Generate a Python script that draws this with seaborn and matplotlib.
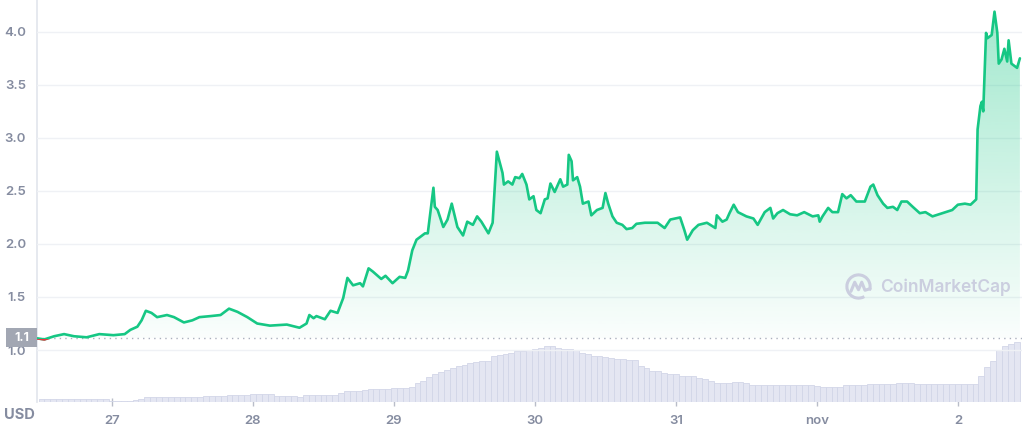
import numpy as np
import pandas as pd
import seaborn as sns
import matplotlib.pyplot as plt
import matplotlib.transforms as mtransforms
from matplotlib.patches import Rectangle, Arc

# Price (USD) against time in days: 27 = Oct 27, 32 = Nov 1, 33 = Nov 2
day = [26.47, 26.52, 26.59, 26.66, 26.73, 26.82, 26.91, 27.01, 27.09, 27.13,
       27.18, 27.21, 27.24, 27.28, 27.32, 27.39, 27.44, 27.51, 27.57, 27.62,
       27.70, 27.77, 27.83, 27.89, 27.96, 28.03, 28.12, 28.24, 28.33, 28.38,
       28.40, 28.43, 28.45, 28.51, 28.55, 28.60, 28.64, 28.67, 28.71, 28.76,
       28.78, 28.82, 28.85, 28.91, 28.94, 28.99, 29.04, 29.08, 29.10, 29.13,
       29.16, 29.19, 29.22, 29.24, 29.28, 29.29, 29.31, 29.35, 29.38, 29.41,
       29.45, 29.49, 29.52, 29.56, 29.59, 29.62, 29.67, 29.70, 29.73, 29.77,
       29.78, 29.81, 29.84, 29.86, 29.89, 29.91, 29.94, 29.96, 29.99, 30.01,
       30.04, 30.07, 30.09, 30.11, 30.14, 30.18, 30.20, 30.23, 30.24, 30.26,
       30.27, 30.30, 30.32, 30.34, 30.38, 30.40, 30.44, 30.48, 30.50, 30.52,
       30.55, 30.58, 30.62, 30.65, 30.69, 30.72, 30.78, 30.87, 30.92, 30.96,
       31.03, 31.06, 31.08, 31.12, 31.16, 31.22, 31.28, 31.29, 31.33, 31.36,
       31.38, 31.41, 31.44, 31.50, 31.55, 31.58, 31.63, 31.67, 31.69, 31.72,
       31.76, 31.81, 31.86, 31.91, 31.97, 32.01, 32.02, 32.04, 32.08, 32.11,
       32.15, 32.18, 32.21, 32.24, 32.28, 32.34, 32.38, 32.40, 32.43, 32.47,
       32.50, 32.54, 32.57, 32.60, 32.64, 32.68, 32.73, 32.77, 32.82, 32.89,
       32.96, 33.00, 33.05, 33.09, 33.13, 33.14, 33.16, 33.17, 33.18, 33.20,
       33.21, 33.24, 33.26, 33.28, 33.29, 33.31, 33.33, 33.35, 33.36, 33.38,
       33.42, 33.44]
price = [1.11, 1.10, 1.13, 1.15, 1.13, 1.12, 1.15, 1.14, 1.15, 1.19,
         1.22, 1.28, 1.37, 1.35, 1.31, 1.33, 1.31, 1.26, 1.28, 1.31,
         1.32, 1.33, 1.39, 1.36, 1.31, 1.25, 1.23, 1.24, 1.21, 1.25,
         1.33, 1.30, 1.32, 1.29, 1.37, 1.35, 1.49, 1.68, 1.61, 1.63,
         1.60, 1.77, 1.74, 1.67, 1.70, 1.63, 1.69, 1.68, 1.75, 1.94,
         2.04, 2.07, 2.10, 2.10, 2.53, 2.35, 2.32, 2.16, 2.23, 2.38,
         2.16, 2.08, 2.21, 2.18, 2.26, 2.21, 2.10, 2.20, 2.87, 2.67,
         2.56, 2.59, 2.56, 2.63, 2.62, 2.66, 2.56, 2.42, 2.45, 2.32,
         2.29, 2.42, 2.43, 2.57, 2.49, 2.61, 2.54, 2.56, 2.84, 2.78,
         2.60, 2.63, 2.54, 2.38, 2.40, 2.27, 2.32, 2.34, 2.48, 2.38,
         2.26, 2.20, 2.18, 2.14, 2.15, 2.19, 2.20, 2.20, 2.15, 2.23,
         2.25, 2.13, 2.04, 2.13, 2.18, 2.20, 2.15, 2.27, 2.21, 2.23,
         2.29, 2.37, 2.30, 2.26, 2.24, 2.18, 2.30, 2.34, 2.24, 2.29,
         2.32, 2.28, 2.27, 2.30, 2.26, 2.27, 2.21, 2.26, 2.34, 2.30,
         2.30, 2.47, 2.43, 2.46, 2.40, 2.40, 2.54, 2.56, 2.46, 2.38,
         2.34, 2.35, 2.32, 2.40, 2.40, 2.35, 2.29, 2.30, 2.26, 2.29,
         2.32, 2.37, 2.38, 2.37, 2.42, 3.08, 3.30, 3.34, 3.25, 3.99,
         3.94, 3.97, 4.19, 3.99, 3.70, 3.74, 3.84, 3.72, 3.92, 3.70,
         3.66, 3.75]
open_price = 1.11

# hourly 24h volume, first bar at Oct 26 12:00 (arbitrary units)
volume = [2.7, 2.7, 2.7, 2.7, 2.7, 2.7, 2.7, 2.7, 2.7, 2.7, 2.7, 2.7,
          1.3, 1.3, 1.3, 1.3, 2.5, 3.3, 4.7, 4.7, 4.7, 4.7,
          5.3, 5.3, 5.3, 5.3, 5.3, 5.3, 6.3, 6.3, 6.3, 6.3,
          7.3, 7.3, 7.3, 7.3, 8.3, 8.3, 8.3, 8.3, 6.3, 6.3, 6.3, 6.3,
          5.3, 6.7, 6.7, 6.7, 6.7, 6.7, 6.7, 9.0, 10.7, 10.7, 11.3,
          12.3, 12.7, 12.7, 12.7, 12.7, 13.7, 13.7, 13.7, 15.3, 19.3,
          21.0, 25.0, 27.7, 30.0, 32.0, 34.3, 36.0, 37.0, 39.0, 40.0,
          41.0, 41.0, 46.0, 47.0, 48.3, 49.0, 51.0, 51.0, 52.0, 53.3,
          54.0, 55.7, 55.7, 54.0, 53.3, 53.0, 52.0, 49.0, 48.0, 46.5,
          46.0, 45.5, 44.0, 43.3, 43.0, 42.0, 42.0, 36.0, 34.0, 31.0,
          30.7, 29.0, 28.3, 28.0, 26.5, 26.0, 26.0, 24.0, 23.3, 21.0,
          19.5, 19.3, 19.3, 20.0, 20.0, 19.0,
          17.3, 17.3, 17.3, 17.3, 17.3, 17.3, 17.3, 17.3, 17.3, 17.3, 17.3,
          16.0, 15.0, 14.7, 14.7, 14.7, 16.7, 16.7, 16.7, 16.7,
          17.7, 17.7, 17.7, 17.7, 17.7, 18.7, 18.7, 18.7,
          17.7, 17.7, 17.7, 17.7, 17.7, 17.7, 17.7, 17.7, 17.7, 17.7, 17.7,
          26.0, 35.0, 41.0, 52.0, 56.0, 58.0, 60.0]

x_ticks = [27, 28, 29, 30, 31, 32, 33]
x_labels = ['27', '28', '29', '30', '31', 'nov', '2']
y_ticks = [1.0, 1.5, 2.0, 2.5, 3.0, 3.5, 4.0]

sns.set_theme(style='white')
plt.rcParams['font.family'] = ['Inter', 'DejaVu Sans']

green = '#16c784'
red = '#ea3943'
grey = '#858ca0'

df = pd.DataFrame({'day': day, 'price': price})
vol_df = pd.DataFrame({'day': 26.5 + np.arange(len(volume)) / 24,
                       'volume': volume})

fig = plt.figure(figsize=(10.24, 4.3), dpi=100)
xlim = (26.468, 33.455)
ylim = (0.51, 4.30)

# volume axes underneath, price axes on top of it
vax = fig.add_axes([37 / 1024, 28 / 430, 985 / 1024, 402 / 430])
vax.bar(vol_df['day'], vol_df['volume'], width=1 / 24,
        facecolor='#e4e6f2', edgecolor='#d2d6e8', linewidth=0.6)
vax.set_xlim(*xlim)
vax.set_ylim(0, 402)
vax.set_yticks([])
for side in ['top', 'right', 'bottom']:
    vax.spines[side].set_visible(False)
vax.spines['left'].set_color('#e3e6ed')
vax.set_xticks(x_ticks)
vax.set_xticklabels(x_labels)
vax.tick_params(axis='x', direction='inout', length=6, width=1,
                color='#b9bdc9', labelsize=9.5, labelcolor=grey, pad=6,
                bottom=True)
for lbl in vax.get_xticklabels():
    lbl.set_fontweight('semibold')

ax = vax.twinx()
ax.yaxis.tick_left()
for side in ax.spines:
    ax.spines[side].set_visible(False)
ax.set_ylim(*ylim)
ax.set_yticks(y_ticks)
ax.set_yticklabels([f'{t:.1f}' for t in y_ticks])
ax.tick_params(axis='y', length=0, pad=8, labelsize=9.5, labelcolor=grey)
for lbl in ax.get_yticklabels():
    lbl.set_fontweight('semibold')
ax.grid(axis='y', color='#eff1f5', lw=1)
ax.set_axisbelow(True)

# gradient fill under the price line
poly = ax.fill_between(df['day'], df['price'], open_price,
                       facecolor='none', edgecolor='none')
alpha = np.linspace(0.02, 0.40, 256)[:, None]
rgba = np.zeros((256, 1, 4))
rgba[..., 0], rgba[..., 1], rgba[..., 2] = 22 / 255, 199 / 255, 132 / 255
rgba[..., 3] = alpha
im = ax.imshow(rgba, extent=[xlim[0], xlim[1], open_price, 4.2],
               origin='lower', aspect='auto', zorder=1)
im.set_clip_path(poly.get_paths()[0], transform=ax.transData)

sns.lineplot(data=df, x='day', y='price', color=green, lw=1.9,
             estimator=None, sort=False, ax=ax, zorder=3)
below, = ax.plot(df['day'], df['price'], color=red, lw=1.9, zorder=4)
below.set_clip_path(Rectangle((xlim[0], ylim[0]), xlim[1] - xlim[0],
                              open_price - 0.006 - ylim[0],
                              transform=ax.transData))
ax.axhline(open_price, color='#aab0bd', lw=1, ls=(0, (1, 3)), zorder=2)

ax.set_xlim(*xlim)
ax.set_ylim(*ylim)
ax.set_xlabel('')
ax.set_ylabel('')

# price tag at the left
bt = mtransforms.blended_transform_factory(fig.transFigure, ax.transData)
ax.add_patch(Rectangle((6 / 1024, open_price - 0.085), 31 / 1024, 0.18,
                       transform=bt, facecolor='#a2a7b3', edgecolor='none',
                       clip_on=False, zorder=10))
ax.text(21.5 / 1024, open_price + 0.005, '1.1', transform=bt, ha='center',
        va='center', color='white', fontsize=9, fontweight='bold',
        clip_on=False, zorder=11)

fig.text(19 / 1024, 1 - 415 / 430, 'USD', ha='center', va='center',
         color=grey, fontsize=10.5, fontweight='bold')

# watermark
fig.text(880 / 1024, 1 - 287 / 430, 'CoinMarketCap', ha='left',
         va='center', color='#cbcedf', fontsize=12.5, fontweight='semibold')
lax = fig.add_axes([845 / 1024, 1 - 300 / 430, 27 / 1024, 27 / 430])
lax.set_xlim(0, 1)
lax.set_ylim(0, 1)
lax.axis('off')
lax.add_patch(Arc((0.5, 0.5), 0.86, 0.86, theta1=-20, theta2=300,
                  color='#cbcedf', lw=2.2))
lax.plot([0.22, 0.36, 0.5, 0.62, 0.74, 0.93],
         [0.32, 0.66, 0.38, 0.66, 0.36, 0.42],
         color='#cbcedf', lw=2.2, solid_capstyle='round',
         solid_joinstyle='round')

fig.savefig('out.png', dpi=100)
